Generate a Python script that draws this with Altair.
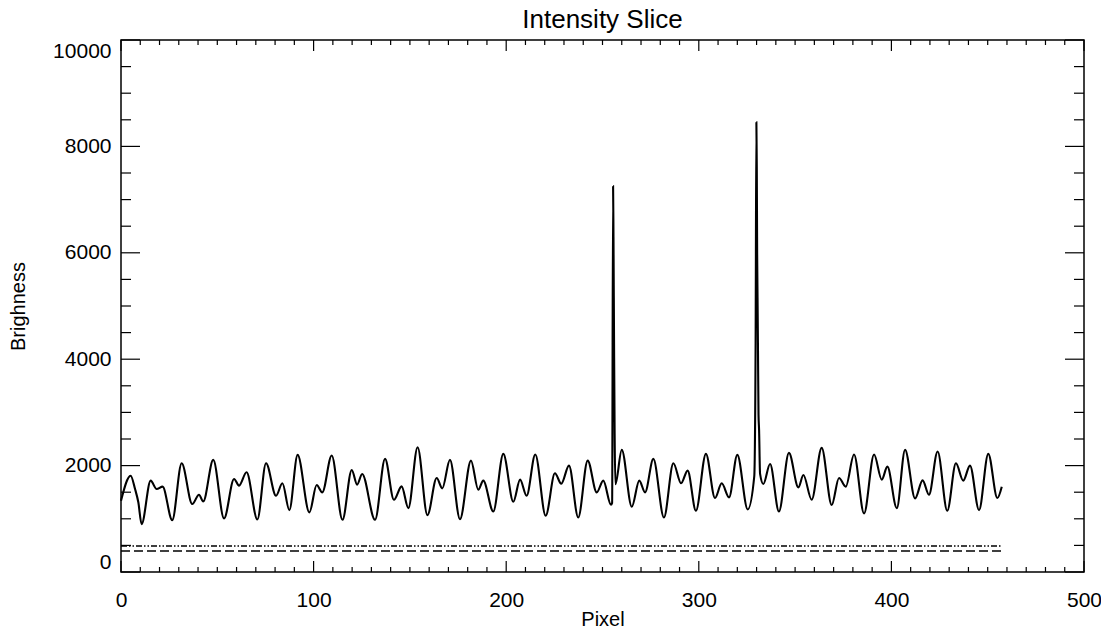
import altair as alt
import pandas as pd

# ---- data ----
pixel = [0, 5.0, 7.3, 9.0, 10.7, 15.4, 18.5, 21.6, 26.6, 31.5, 37.0, 40.5, 42.7, 47.9,
         53.5, 58.7, 61.3, 65.2, 70.8, 75.3, 80.5, 83.8, 87.4, 91.7, 97.8, 101.6, 104.5,
         109.4, 115.0, 119.8, 122.6, 125.2, 131.9, 137.1, 141.7, 145.7, 149.2, 154.0,
         159.1, 163.9, 166.8, 170.8, 176.0, 181.7, 185.5, 188.1, 193.3, 198.5, 203.7,
         207.2, 210.6, 215.1, 220.5, 225.3, 228.6, 232.6, 237.4, 242.3, 247.0, 250.4,
         254.4, 255.0, 255.5, 255.7, 256.0, 256.3, 256.7, 260.0, 265.2, 269.1, 272.1,
         276.4, 281.9, 286.8, 290.8, 294.2, 298.5, 303.7, 308.4, 311.9, 315.7, 320.0,
         325.4, 328.8, 329.5, 329.9, 330.1, 330.3, 330.5, 330.7, 331.0, 331.3, 331.8,
         333.5, 337.0, 341.6, 346.8, 351.7, 354.3, 358.6, 363.8, 369.0, 372.8, 376.3,
         380.6, 385.8, 391.0, 395.0, 397.9, 402.8, 407.1, 412.3, 416.2, 419.5, 424.0,
         429.0, 433.5, 437.3, 440.8, 445.5, 450.3, 455.0, 457.3]
brightness = [1340, 1810, 1560, 1310, 900, 1717, 1560, 1604, 975, 2044, 1277, 1453, 1327, 2107,
              1006, 1748, 1623, 1874, 987, 2044, 1434, 1667, 1164, 2201, 1120, 1635, 1497,
              2189, 981, 1918, 1642, 1843, 981, 2126, 1358, 1610, 1201, 2346,
              1069, 1767, 1572, 2107, 994, 2094, 1547, 1717, 1138, 2220, 1321,
              1736, 1434, 2208, 1057, 1855, 1660, 2000, 1025, 2094, 1497, 1717,
              1264, 1300, 7250, 6300, 4300, 2600, 1650, 2296, 1226, 1717, 1497,
              2126, 1025, 2044, 1667, 1906, 1151, 2220, 1390, 1667, 1403, 2201,
              1176, 1800, 4300, 8455, 7630, 5970, 5160, 4310, 2960, 2670, 1850,
              1654, 2031, 1138, 2239, 1591, 1824, 1358, 2333, 1258, 1767, 1604,
              2208, 1101, 2208, 1736, 1981, 1201, 2296, 1384, 1723, 1453, 2264,
              1151, 2044, 1717, 2000, 1164, 2220, 1390, 1604]

ref_x_start = [0, 0]
ref_x_end = [457.3, 457.3]
ref_levels = [490, 395]

x_major = list(range(0, 501, 100))
x_minor = [v for v in range(0, 501, 10) if v % 100]
y_major = list(range(0, 10001, 2000))
y_minor = [v for v in range(0, 10001, 500) if v % 2000]

# ---- layout / style ----
W, H = 963, 532
FONT = "Liberation Sans"
X_MAJ, X_MIN = 11, 5
Y_MAJ, Y_MIN = 19, 10

xscale = alt.Scale(domain=[0, 500], nice=False, zero=False)
yscale = alt.Scale(domain=[0, 10000], nice=False, zero=False)

x_axis = alt.Axis(title="Pixel", values=x_major, ticks=False, tickSize=0,
                  domain=False, grid=False, labelPadding=17, format="d",
                  labelFlush=False, titleY=53, titleBaseline="alphabetic")
y_axis = alt.Axis(title="Brighness", values=y_major, ticks=False, tickSize=0,
                  domain=False, grid=False, labelPadding=10, format="d",
                  labelFlush=True, titlePadding=24)

df = pd.DataFrame({"Pixel": pixel, "Brightness": brightness})

line = alt.Chart(df).mark_line(color="black", strokeWidth=2.1,
                               interpolate="monotone").encode(
    x=alt.X("Pixel:Q", scale=xscale, axis=x_axis),
    y=alt.Y("Brightness:Q", scale=yscale, axis=y_axis),
)

ref_upper = pd.DataFrame({"x0": [ref_x_start[0]], "x1": [ref_x_end[0]], "y": [ref_levels[0]]})
ref_lower = pd.DataFrame({"x0": [ref_x_start[1]], "x1": [ref_x_end[1]], "y": [ref_levels[1]]})

upper = alt.Chart(ref_upper).mark_rule(color="black", strokeWidth=1.4,
                                       strokeDash=[6, 2, 1.5, 2, 1.5, 2]).encode(
    x=alt.X("x0:Q", scale=xscale, axis=x_axis), x2="x1:Q",
    y=alt.Y("y:Q", scale=yscale, axis=y_axis))
lower = alt.Chart(ref_lower).mark_rule(color="black", strokeWidth=1.4,
                                       strokeDash=[9, 4]).encode(
    x=alt.X("x0:Q", scale=xscale, axis=x_axis), x2="x1:Q",
    y=alt.Y("y:Q", scale=yscale, axis=y_axis))


def xticks(vals, length):
    d = pd.DataFrame({"v": vals})
    base = alt.Chart(d).mark_rule(color="black", strokeWidth=1.2)
    bottom = base.encode(x=alt.X("v:Q", scale=xscale, axis=x_axis),
                         y=alt.value(H), y2=alt.value(H - length))
    top = base.encode(x=alt.X("v:Q", scale=xscale, axis=x_axis),
                      y=alt.value(0), y2=alt.value(length))
    return [bottom, top]


def yticks(vals, length):
    d = pd.DataFrame({"v": vals})
    base = alt.Chart(d).mark_rule(color="black", strokeWidth=1.2)
    left = base.encode(y=alt.Y("v:Q", scale=yscale, axis=y_axis),
                       x=alt.value(0), x2=alt.value(length))
    right = base.encode(y=alt.Y("v:Q", scale=yscale, axis=y_axis),
                        x=alt.value(W), x2=alt.value(W - length))
    return [left, right]


layers = [line, upper, lower]
layers += xticks(x_major, X_MAJ) + xticks(x_minor, X_MIN)
layers += yticks(y_major, Y_MAJ) + yticks(y_minor, Y_MIN)

chart = alt.layer(*layers).properties(
    width=W, height=H,
    title=alt.TitleParams("Intensity Slice", font=FONT, fontSize=26,
                          fontWeight="normal", color="black", offset=6),
    autosize=alt.AutoSizeParams(type="none"),
    padding={"left": 113, "top": 32, "right": 17, "bottom": 58},
).configure_axis(
    labelFont=FONT, titleFont=FONT, labelFontSize=21, titleFontSize=20,
    labelColor="black", titleColor="black", titleFontWeight="normal",
).configure_view(stroke="black", strokeWidth=1.5)

chart.save("out.html", embed_options={"renderer": "svg", "actions": False})
